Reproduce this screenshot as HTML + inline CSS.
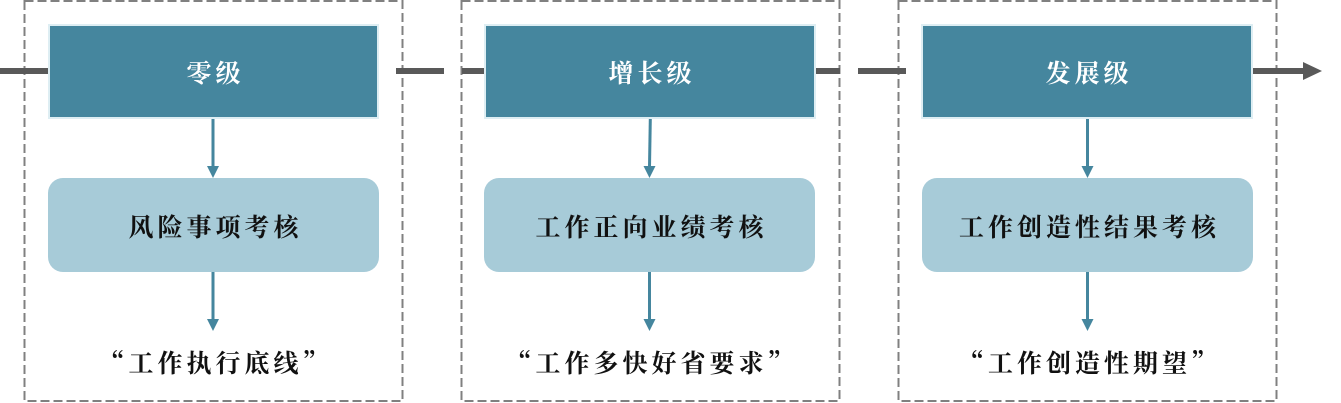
<!DOCTYPE html>
<html><head><meta charset="utf-8"><style>
html,body{margin:0;padding:0;background:#fff;}
body{width:1341px;height:403px;position:relative;overflow:hidden;}
svg{position:absolute;left:0;top:0;}
.t{position:absolute;text-align:center;font-family:"Noto Serif CJK SC","Noto Sans CJK SC",serif;font-weight:bold;font-size:25px;letter-spacing:4px;white-space:nowrap;box-sizing:border-box;padding-left:4px;}
.h{color:#fff;top:25px;height:95px;line-height:95px;}
.b{color:#111;top:179px;height:94px;line-height:94px;}
.q{color:#111;top:342px;height:40px;line-height:40px;}
</style></head><body>
<svg width="1341" height="403" viewBox="0 0 1341 403">
 <g fill="none" stroke="#808080" stroke-width="2" stroke-dasharray="9 4">
  <rect x="24.5" y="1" width="378" height="400"/>
  <rect x="461.5" y="1" width="378" height="400"/>
  <rect x="898.5" y="1" width="378" height="400"/>
 </g>
 <g stroke="#595959" stroke-width="6">
  <line x1="0" y1="71" x2="48" y2="71"/>
  <line x1="396" y1="71" x2="444" y2="71"/>
  <line x1="462" y1="71" x2="485" y2="71"/>
  <line x1="816" y1="71" x2="840" y2="71"/>
  <line x1="858" y1="71" x2="906" y2="71"/>
  <line x1="1253" y1="71" x2="1304" y2="71"/>
 </g>
 <polygon points="1303,62 1322,71 1303,80" fill="#595959"/>
 <g fill="#45869e" stroke="#deeef3" stroke-width="2">
  <rect x="49" y="25" width="329" height="93"/>
  <rect x="485" y="25" width="330" height="93"/>
  <rect x="922" y="25" width="330" height="93"/>
 </g>
 <g fill="#a7cbd8">
  <rect x="48" y="178" width="331" height="94" rx="15"/>
  <rect x="484" y="178" width="331" height="94" rx="15"/>
  <rect x="922" y="178" width="331" height="94" rx="15"/>
 </g>
 <g stroke="#45869e" stroke-width="3">
  <line x1="213" y1="119" x2="213" y2="167"/>
  <line x1="213" y1="272" x2="213" y2="320"/>
  <line x1="650.3" y1="119" x2="649.5" y2="167"/>
  <line x1="649.5" y1="272" x2="649.5" y2="320"/>
  <line x1="1087.5" y1="119" x2="1087.5" y2="167"/>
  <line x1="1087.5" y1="272" x2="1087.5" y2="320"/>
 </g>
 <g fill="#45869e">
  <polygon points="207,166 219,166 213,178"/>
  <polygon points="207,319 219,319 213,331"/>
  <polygon points="643.5,166 655.5,166 649.5,178"/>
  <polygon points="643.5,319 655.5,319 649.5,331"/>
  <polygon points="1081.5,166 1093.5,166 1087.5,178"/>
  <polygon points="1081.5,319 1093.5,319 1087.5,331"/>
 </g>
</svg>
<div class="t h" style="left:48px;width:331px;">零级</div>
<div class="t h" style="left:484px;width:332px;">增长级</div>
<div class="t h" style="left:921px;width:332px;">发展级</div>
<div class="t b" style="left:48px;width:331px;">风险事项考核</div>
<div class="t b" style="left:484px;width:331px;">工作正向业绩考核</div>
<div class="t b" style="left:922px;width:331px;">工作创造性结果考核</div>
<div class="t q" style="left:48px;width:331px;">“工作执行底线”</div>
<div class="t q" style="left:484px;width:331px;">“工作多快好省要求”</div>
<div class="t q" style="left:922px;width:331px;">“工作创造性期望”</div>
</body></html>
